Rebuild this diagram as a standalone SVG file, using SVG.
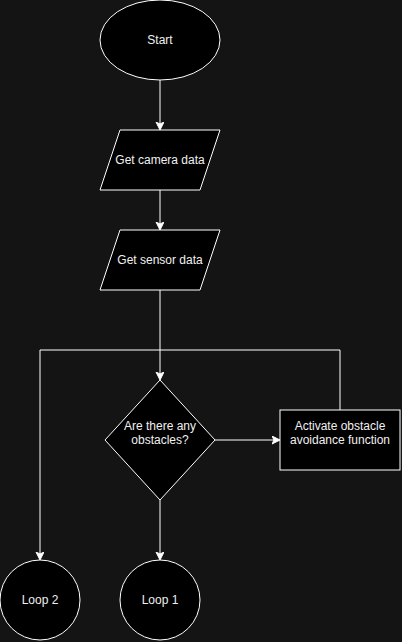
<svg xmlns="http://www.w3.org/2000/svg" width="402" height="642" viewBox="0 0 402 642">
<defs>
<marker id="arr" markerWidth="10" markerHeight="10" refX="7" refY="4" orient="auto" markerUnits="userSpaceOnUse">
<path d="M0,0 L8,4 L0,8 L2,4 Z" fill="#ffffff" stroke="#ffffff" stroke-width="1"/>
</marker>
<style>
.shape{fill:#000000;stroke:#ffffff;stroke-width:1}
.edge{fill:none;stroke:#ffffff;stroke-width:1}
text{font-family:"Liberation Sans",Arial,sans-serif;font-size:12px;fill:#f0f0f0;text-anchor:middle;dominant-baseline:central}
</style>
</defs>
<rect width="402" height="642" fill="#141414"/>
<g id="connectors">
<path class="edge" d="M160,80 L160,129" marker-end="url(#arr)"/>
<path class="edge" d="M160,190 L160,229" marker-end="url(#arr)"/>
<path class="edge" d="M160,290 L160,379" marker-end="url(#arr)"/>
<path class="edge" d="M215,440 L279,440" marker-end="url(#arr)"/>
<path class="edge" d="M340,410 L340,350 L40,350 L40,559" marker-end="url(#arr)"/>
<path class="edge" d="M160,500 L160,559" marker-end="url(#arr)"/>
</g>
<g id="start">
<ellipse class="shape" cx="160" cy="40" rx="60" ry="40"/>
<text x="160" y="40">Start</text>
</g>
<g id="camera">
<polygon class="shape" points="120,130 220,130 200,190 100,190"/>
<text x="160" y="160">Get camera data</text>
</g>
<g id="sensor">
<polygon class="shape" points="120,230 220,230 200,290 100,290"/>
<text x="160" y="260">Get sensor data</text>
</g>
<g id="decision">
<polygon class="shape" points="160,380 215,440 160,500 105,440"/>
<text x="160" y="426">Are there any</text>
<text x="160" y="440">obstacles?</text>
</g>
<g id="activate">
<rect class="shape" x="280" y="410" width="120" height="60"/>
<text x="340" y="426">Activate obstacle</text>
<text x="340" y="440">avoidance function</text>
</g>
<g id="loop2">
<circle class="shape" cx="40" cy="600" r="40"/>
<text x="40" y="600">Loop 2</text>
</g>
<g id="loop1">
<circle class="shape" cx="160" cy="600" r="40"/>
<text x="160" y="600">Loop 1</text>
</g>
</svg>
